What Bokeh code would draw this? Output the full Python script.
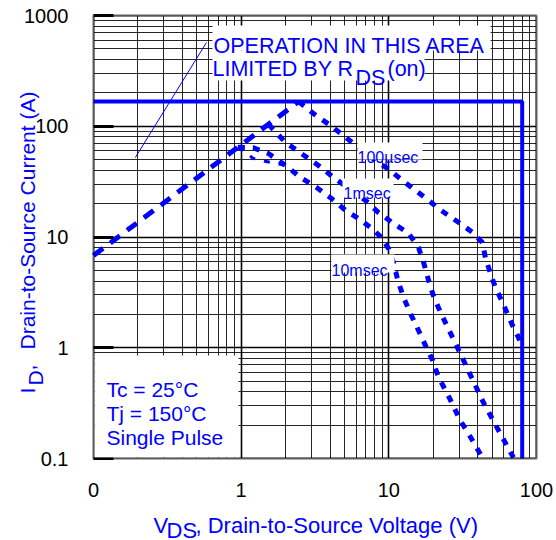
import math
from bokeh.plotting import figure
from bokeh.models import Range1d, FixedTicker, Label, BoxAnnotation
from bokeh.embed import file_html
from bokeh.resources import INLINE

BLUE = "#0000FF"
FONT = "Liberation Sans"

# ---------------- data ----------------
x_ticks = [0.1, 1, 10, 100]
x_tick_labels = ["0", "1", "10", "100"]
y_ticks = [0.1, 1, 10, 100, 1000]
y_tick_labels = ["0.1", "1", "10", "100", "1000"]
minor_x = [m * 10.0 ** e for e in (-1, 0, 1) for m in range(2, 10)]
minor_y = [m * 10.0 ** e for e in (-1, 0, 1, 2) for m in range(2, 10)]

# RDS(on) limited line (shared rising part)
rds_v = [0.1, 1.0, 2.45]
rds_i = [6.8, 68.0, 167.0]

# 100 usec
us100_v = [2.45, 3.09, 4.03, 4.93, 5.77, 8.13, 9.8, 12.4, 15.2, 18.6, 21.7, 25.4,
           30.5, 36.9, 43.0, 45.2, 48.8, 52.7, 58.9, 68.8, 75.5, 80.0]
us100_i = [167.0, 130.0, 101.6, 82.4, 69.8, 49.1, 41.5, 32.4, 26.3, 21.4, 18.1, 15.6,
           13.2, 11.0, 8.9, 6.4, 4.68, 3.5, 2.56, 1.59, 1.24, 1.0]

# 1 msec
ms1_v = [1.53, 2.0, 2.56, 3.34, 4.22, 6.95, 8.51, 10.8, 13.6, 15.9, 17.2, 18.6, 20.0,
         22.4, 28.3, 34.6, 43.7, 54.4, 69.8]
ms1_i = [104.0, 71.3, 56.7, 44.2, 34.5, 21.4, 16.6, 13.2, 10.8, 8.0, 5.89, 4.05, 2.97,
         2.08, 1.09, 0.62, 0.32, 0.187, 0.102]

# 10 msec
ms10_v = [0.95, 1.21, 1.53, 2.0, 2.52, 3.24, 4.09, 5.09, 6.23, 7.52, 8.79, 9.95, 10.8,
          11.5, 12.6, 14.0, 15.9, 17.7, 19.8, 21.7, 24.9, 30.5, 34.6, 43.0]
ms10_i = [64.6, 64.0, 56.7, 44.2, 34.5, 28.0, 22.3, 17.4, 14.7, 12.2, 10.1, 7.87, 5.77,
          4.05, 2.84, 2.04, 1.43, 1.05, 0.77, 0.54, 0.386, 0.22, 0.168, 0.102]

# short lower branch joining the 10 msec curve
branch_v = [0.95, 1.21, 1.58, 2.0]
branch_i = [64.6, 51.2, 47.1, 44.2]

# current / voltage limit
limit_v = [0.1, 80.0, 80.0]
limit_i = [167.0, 167.0, 0.1]

# pointer line of the RDS(on) note
pointer_v = [0.192, 0.582]
pointer_i = [52.2, 570.0]

# ---------------- layout ----------------
W, H = 556, 540
PL, PT, PS = 93, 15, 443          # plot box: left, top, size (px)
DX, DY = PS / 3.0, PS / 4.0       # px per decade
XMIN, XMAX = x_ticks[0], x_ticks[-1]
YMIN, YMAX = y_ticks[0], y_ticks[-1]
x_lo = 10 ** (math.log10(XMIN) - PL / DX)
x_hi = 10 ** (math.log10(XMAX) + (W - PL - PS) / DX)
y_hi = 10 ** (math.log10(YMAX) + PT / DY)
y_lo = 10 ** (math.log10(YMIN) - (H - PT - PS) / DY)

p = figure(width=W, height=H, x_axis_type="log", y_axis_type="log",
           x_range=Range1d(x_lo, x_hi), y_range=Range1d(y_lo, y_hi),
           output_backend="svg", toolbar_location=None, min_border=0)
p.background_fill_color = "white"
p.border_fill_color = "white"
p.outline_line_color = None

p.xaxis.ticker = FixedTicker(ticks=x_ticks, minor_ticks=minor_x)
p.yaxis.ticker = FixedTicker(ticks=y_ticks, minor_ticks=minor_y)
p.xaxis.major_label_overrides = dict(zip(x_ticks, x_tick_labels))
p.yaxis.major_label_overrides = dict(zip(y_ticks, y_tick_labels))
p.xaxis.fixed_location = YMIN
p.yaxis.fixed_location = XMIN

for ax in (p.xaxis[0], p.yaxis[0]):
    ax.axis_line_color = None
    ax.minor_tick_line_color = None
    ax.major_label_text_font = FONT
    ax.major_label_text_font_size = "20px"
    ax.major_label_text_color = "black"
p.xaxis.major_tick_line_color = None
p.xaxis.major_label_standoff = 18
p.yaxis.major_tick_in = 20
p.yaxis.major_tick_out = 0
p.yaxis.major_tick_line_width = 3
p.yaxis.major_tick_line_color = "black"
p.yaxis.major_label_standoff = 21

p.xgrid.bounds = (XMIN, XMAX)
p.ygrid.bounds = (YMIN, YMAX)
for g, cb in ((p.xgrid[0], (YMIN, YMAX)), (p.ygrid[0], (XMIN, XMAX))):
    g.grid_line_color = "black"
    g.grid_line_width = 1.6
    g.minor_grid_line_color = "black"
    g.minor_grid_line_width = 1
    g.minor_grid_line_alpha = 0.85
    if "cross_bounds" in g.properties():
        g.cross_bounds = cb

# white masks (glyph level, above the grid) so the grid stays inside the plot box
mask_l = [x_lo, XMAX, XMIN, XMIN]
mask_r = [XMIN, x_hi, XMAX, XMAX]
mask_b = [y_lo, y_lo, YMAX, y_lo]
mask_t = [y_hi, y_hi, y_hi, YMIN]
p.quad(left=mask_l, right=mask_r, bottom=mask_b, top=mask_t,
       fill_color="white", line_color=None)

# ---------------- curves ----------------
p.line(limit_v, limit_i, line_color=BLUE, line_width=4)
p.line(rds_v, rds_i, line_color=BLUE, line_width=5, line_dash="12 9")
p.line(us100_v, us100_i, line_color=BLUE, line_width=5, line_dash="7 8")
p.line(ms1_v, ms1_i, line_color=BLUE, line_width=5, line_dash="7 8")
p.line(ms10_v, ms10_i, line_color=BLUE, line_width=5, line_dash="7 8")
p.line(branch_v, branch_i, line_color=BLUE, line_width=3, line_dash="6 9")
p.line(pointer_v, pointer_i, line_color=BLUE, line_width=1)


# ---------------- annotations ----------------
def sx(px):
    return px


def sy(py):
    return H - py


def box(x0, y0, x1, y1):
    p.add_layout(BoxAnnotation(left=sx(x0), right=sx(x1), top=sy(y0), bottom=sy(y1),
                               left_units="screen", right_units="screen",
                               top_units="screen", bottom_units="screen",
                               fill_color="white", fill_alpha=1.0, line_color=None))


def lab(text, px, py, size, angle=0.0, color=BLUE):
    p.add_layout(Label(x=sx(px), y=sy(py), x_units="screen", y_units="screen",
                       text=text, text_font=FONT, text_font_size=size,
                       text_color=color, text_align="left",
                       text_baseline="alphabetic", angle=angle))


box(212, 25, 490, 50)
box(212, 50, 424, 80)
box(357, 142, 422, 159)
box(342, 178, 393, 197)
box(331, 254, 394, 272)
box(94, 355, 238, 457)

lab("OPERATION IN THIS AREA", 213, 45, "21.5px")
lab("LIMITED BY R", 212, 68, "21.5px")
lab("DS", 355, 77, "21.5px")
lab("(on)", 387, 68, "21.5px")

lab("100\u00b5sec", 357, 157, "16px")
lab("1msec", 343, 193, "16px")
lab("10msec", 331, 270, "16px")

lab("Tc = 25\u00b0C", 106, 389, "21px")
lab("Tj = 150\u00b0C", 106, 413, "21px")
lab("Single Pulse", 106, 437, "21px")

# axis titles with subscripts
lab("V", 153, 525, "22px")
lab("DS", 166, 530, "22px")
lab(", Drain-to-Source Voltage (V)", 195, 525, "22px")

lab("I", 27, 393, "21px", angle=math.pi / 2)
lab("D", 35, 385, "21px", angle=math.pi / 2)
lab(",", 27, 370, "21px", angle=math.pi / 2)
lab("Drain-to-Source Current (A)", 27, 349, "21px", angle=math.pi / 2)

# thick plot border
p.add_layout(BoxAnnotation(left=XMIN, right=XMAX, bottom=YMIN, top=YMAX,
                           fill_color=None, line_color="black", line_width=3))

open("out.html", "w").write(file_html(p, INLINE))
